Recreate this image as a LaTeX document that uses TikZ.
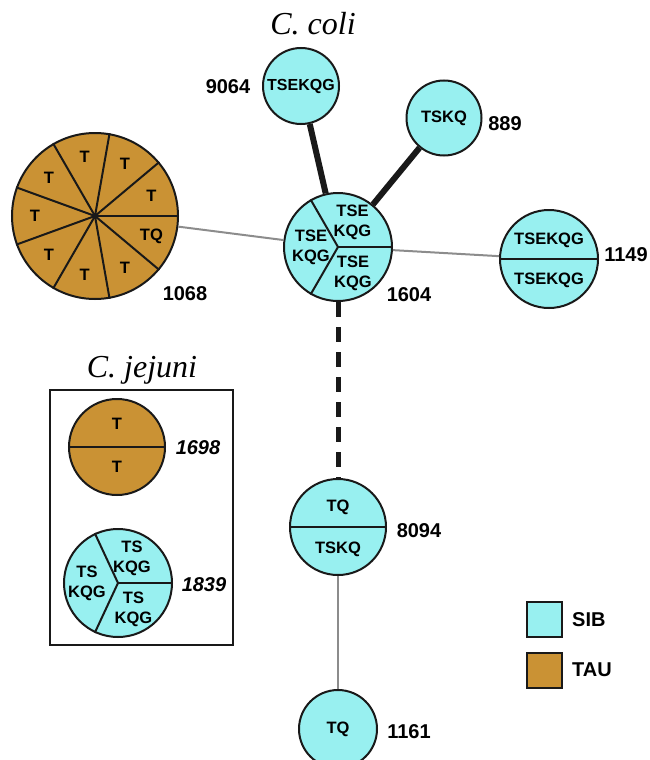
\documentclass[tikz,border=0pt]{standalone}
\usepackage{fontspec}
\setmainfont{Liberation Serif}
\setsansfont{Liberation Sans}
\definecolor{sibc}{RGB}{152,240,240}
\definecolor{tauc}{RGB}{202,146,52}
\definecolor{edgec}{RGB}{25,25,25}
\begin{document}
\begin{tikzpicture}[x=1pt,y=-1pt,
 hap/.style={circle,draw=edgec,line width=2pt,inner sep=0pt},
 sib/.style={hap,fill=sibc},
 tau/.style={hap,fill=tauc},
 div/.style={draw=edgec,line width=2pt},
 lbl/.style={font=\sffamily\bfseries\fontsize{16.5}{20}\selectfont,align=center,inner sep=0pt},
 num/.style={font=\sffamily\bfseries\fontsize{20}{22}\selectfont,inner sep=0pt},
 inum/.style={font=\sffamily\bfseries\itshape\fontsize{20}{22}\selectfont,inner sep=0pt},
 ttl/.style={font=\itshape\fontsize{32}{36}\selectfont,inner sep=0pt,anchor=base},
 thinlink/.style={draw=gray!90,line width=2pt},
 thicklink/.style={draw=edgec,line width=6pt},
 dashedlink/.style={draw=edgec,line width=5pt,dash pattern=on 15pt off 10pt},
 key/.style={draw=edgec,line width=2pt,minimum size=35pt,inner sep=0pt},
]
\useasboundingbox (0,0) rectangle (649,760);

% haplotype circles
\node[tau,minimum size=166pt] (n1068) at (95,216) {};
\node[sib,minimum size=108pt] (n1604) at (338,247) {};
\node[sib,minimum size=76pt,font=\sffamily\bfseries\fontsize{16}{18}\selectfont] (n9064) at (301,86) {TSEKQG};
\node[sib,minimum size=75pt,font=\sffamily\bfseries\fontsize{16.5}{18}\selectfont] (n889) at (444,118) {TSKQ};
\node[sib,minimum size=98pt] (n1149) at (549,259) {};
\node[sib,minimum size=96pt] (n8094) at (338,527) {};
\node[sib,minimum size=78pt,font=\sffamily\bfseries\fontsize{16.5}{18}\selectfont] (n1161) at (338,729) {TQ};
\node[tau,minimum size=96pt] (n1698) at (117,447) {};
\node[sib,minimum size=108pt] (n1839) at (118,583) {};

% connectors
\draw[thinlink] (n1068) -- (n1604);
\draw[thinlink] (n1604) -- (n1149);
\draw[thicklink] (n9064) -- (n1604);
\draw[thicklink] (n889) -- (n1604);
\draw[dashedlink] (n1604) -- (n8094);
\draw[thinlink] (n8094) -- (n1161);

% 1068 sectors
\foreach \a in {0,40,...,320} \draw[div] (n1068.center) -- (n1068.\a);
\fill[edgec] (n1068.center) circle (3pt);
\foreach \a/\t in {20/T,60/T,100/T,140/T,180/T,220/T,260/T,300/T,340/TQ}
  \node[lbl] at ([shift={(\a:60pt)}]n1068.center) {\t};

% 1604 sectors
\foreach \a in {0,120,240} \draw[div] (n1604.center) -- (n1604.\a);
\node[lbl] (s1604a) at ([shift={(60:29pt)}]n1604.center) {TSE\\KQG};
\node[lbl] (s1604b) at ([shift={(180:27pt)}]n1604.center) {TSE\\KQG};
\node[lbl] (s1604c) at ([shift={(300:30pt)}]n1604.center) {TSE\\KQG};

% 1149
\draw[div] (n1149.west) -- (n1149.east);
\node[lbl] (s1149a) at ([yshift=19pt]n1149.center) {TSEKQG};
\node[lbl] (s1149b) at ([yshift=-21pt]n1149.center) {TSEKQG};

% 8094
\draw[div] (n8094.west) -- (n8094.east);
\node[lbl] (s8094a) at ([yshift=20pt]n8094.center) {TQ};
\node[lbl] (s8094b) at ([yshift=-22pt]n8094.center) {TSKQ};

% 1698
\draw[div] (n1698.west) -- (n1698.east);
\node[lbl] (s1698a) at ([yshift=23pt]n1698.center) {T};
\node[lbl] (s1698b) at ([yshift=-20pt]n1698.center) {T};

% 1839
\foreach \a in {0,115,245} \draw[div] (n1839.center) -- (n1839.\a);
\node[lbl] (s1839a) at ([shift={(60:28pt)}]n1839.center) {TS\\KQG};
\node[lbl] (s1839b) at ([shift={(180:31pt)}]n1839.center) {TS\\KQG};
\node[lbl] (s1839c) at ([shift={(300:31pt)}]n1839.center) {TS\\KQG};

% numbers
\node[num] (l1068) at (185,294) {1068};
\node[num] (l1604) at (409,295) {1604};
\node[num] (l9064) at (228,87) {9064};
\node[num] (l889) at (505,124) {889};
\node[num] (l1149) at (626,255) {1149};
\node[num] (l8094) at (419,531) {8094};
\node[num] (l1161) at (409,732) {1161};
\node[inum] (l1698) at (198,448) {1698};
\node[inum] (l1839) at (204,585) {1839};

% titles and box
\node[ttl] (tcoli) at (313,35) {C. coli};
\node[ttl] (tjej) at (142,377) {C. jejuni};
\draw[edgec,line width=1.5pt] (50,390) rectangle (233,645);

% legend
\node[key,fill=sibc] (ksib) at (544.5,619.5) {};
\node[key,fill=tauc] (ktau) at (544.5,670) {};
\node[num,anchor=west] (lsib) at (572,620) {SIB};
\node[num,anchor=west] (ltau) at (572,670) {TAU};
\end{tikzpicture}
\end{document}
